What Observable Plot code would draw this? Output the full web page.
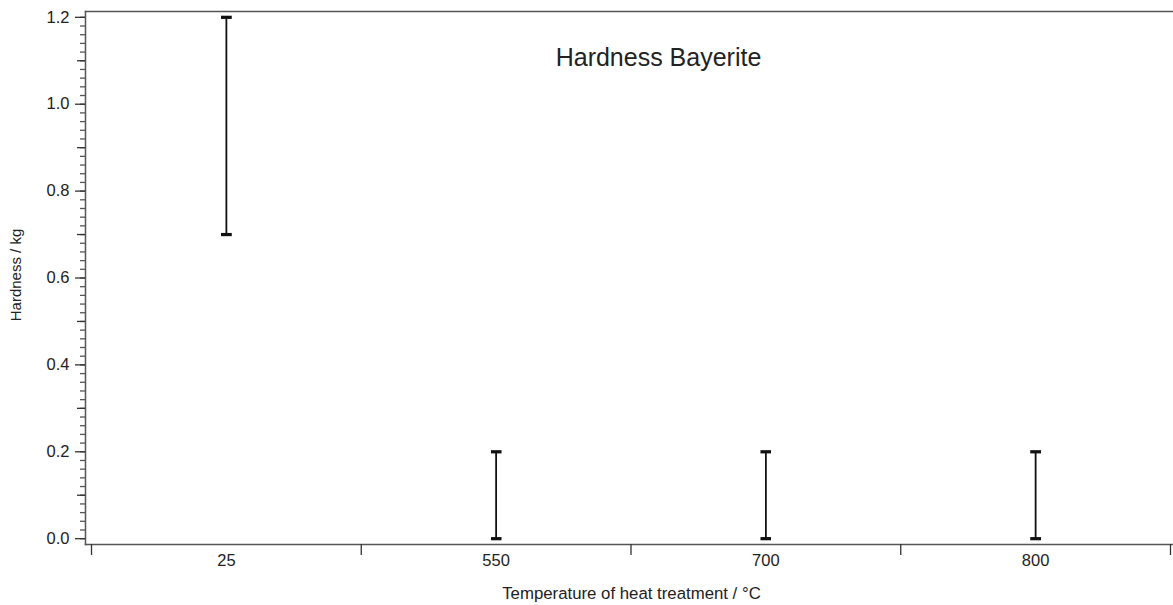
<!DOCTYPE html>
<html>
<head>
<meta charset="utf-8">
<script src="https://cdn.jsdelivr.net/npm/d3@7"></script>
<script src="https://cdn.jsdelivr.net/npm/@observablehq/plot@0.6"></script>
<style>
  html, body { margin: 0; padding: 0; background: #fff; }
  #chart svg { display: block; }
</style>
</head>
<body>
<div id="chart"></div>
<script>
// Heat-treatment temperatures (°C), one category per error bar
const temperatures = ["25", "550", "700", "800"];
// Hardness range (kg) measured at each temperature
const hardnessLow = [0.7, 0.0, 0.0, 0.0];
const hardnessHigh = [1.2, 0.2, 0.2, 0.2];
// Labelled y ticks
const yTickValues = [0, 0.2, 0.4, 0.6, 0.8, 1.0, 1.2];

const rows = temperatures.map((t, i) => ({i, t, low: hardnessLow[i], high: hardnessHigh[i]}));

// Minor ticks every 0.02, half-way ticks every 0.1
const minorTicks = d3.range(0, 61).map(k => +(k * 0.02).toFixed(2));
const midTicks = d3.range(0, 6).map(k => +(k * 0.2 + 0.1).toFixed(1));
// Category boundaries on the x axis
const boundaries = d3.range(0, temperatures.length + 1).map(k => k - 0.5);
const centers = temperatures.map((_, i) => i);

const axisColor = "#555";
const font = "'Liberation Sans', Arial, sans-serif";

const chart = Plot.plot({
  width: 1173,
  height: 605,
  marginLeft: 85,
  marginRight: 0,
  marginTop: 11,
  marginBottom: 61,
  style: {fontFamily: font, fontSize: "16px", color: "#222", background: "#fff"},
  x: {type: "linear", domain: [-0.5, temperatures.length - 0.5], insetLeft: 6, insetRight: 3},
  y: {domain: [-0.0134, 1.2134]},
  marks: [
    Plot.frame({anchor: "left", stroke: axisColor, strokeWidth: 1.5}),
    Plot.frame({anchor: "top", stroke: axisColor, strokeWidth: 1.5}),
    Plot.frame({anchor: "bottom", stroke: axisColor, strokeWidth: 1.5}),
    // y axis: minor, mid and major ticks
    Plot.axisY(minorTicks, {tickSize: 5, tickFormat: () => "", label: null, stroke: axisColor, strokeWidth: 1.3}),
    Plot.axisY(midTicks, {tickSize: 8, tickFormat: () => "", label: null, stroke: "#333", strokeWidth: 1.3}),
    Plot.axisY(yTickValues, {
      tickSize: 10, tickPadding: 6, tickFormat: d3.format(".1f"), stroke: "#333", strokeWidth: 1.3,
      fontSize: 16.5, label: null
    }),
    // x axis: boundary ticks and centred category labels
    Plot.axisX(boundaries, {tickSize: 11, tickFormat: () => "", label: null, stroke: "#333", strokeWidth: 1.3}),
    Plot.axisX(centers, {
      tickSize: 0, tickPadding: 10, tickFormat: i => temperatures[i], fontSize: 16.5, label: null
    }),
    // axis titles
    Plot.text(["Temperature of heat treatment / °C"], {
      frameAnchor: "bottom", dx: 2, dy: 49, lineAnchor: "middle", fontSize: 16.8, fill: "#222"
    }),
    Plot.text(["Hardness / kg"], {
      frameAnchor: "left", dx: -69, dy: -3, rotate: -90, textAnchor: "middle", lineAnchor: "middle",
      fontSize: 15, fill: "#222"
    }),
    // error bars with end caps
    Plot.link(rows, {x1: "i", x2: "i", y1: "low", y2: "high", stroke: "#111", strokeWidth: 1.8, marker: "tick"}),
    Plot.text(["Hardness Bayerite"], {
      frameAnchor: "top", dx: 29, dy: 37, lineAnchor: "top", fontSize: 25, fill: "#222"
    })
  ]
});

document.getElementById("chart").appendChild(chart);
</script>
</body>
</html>
